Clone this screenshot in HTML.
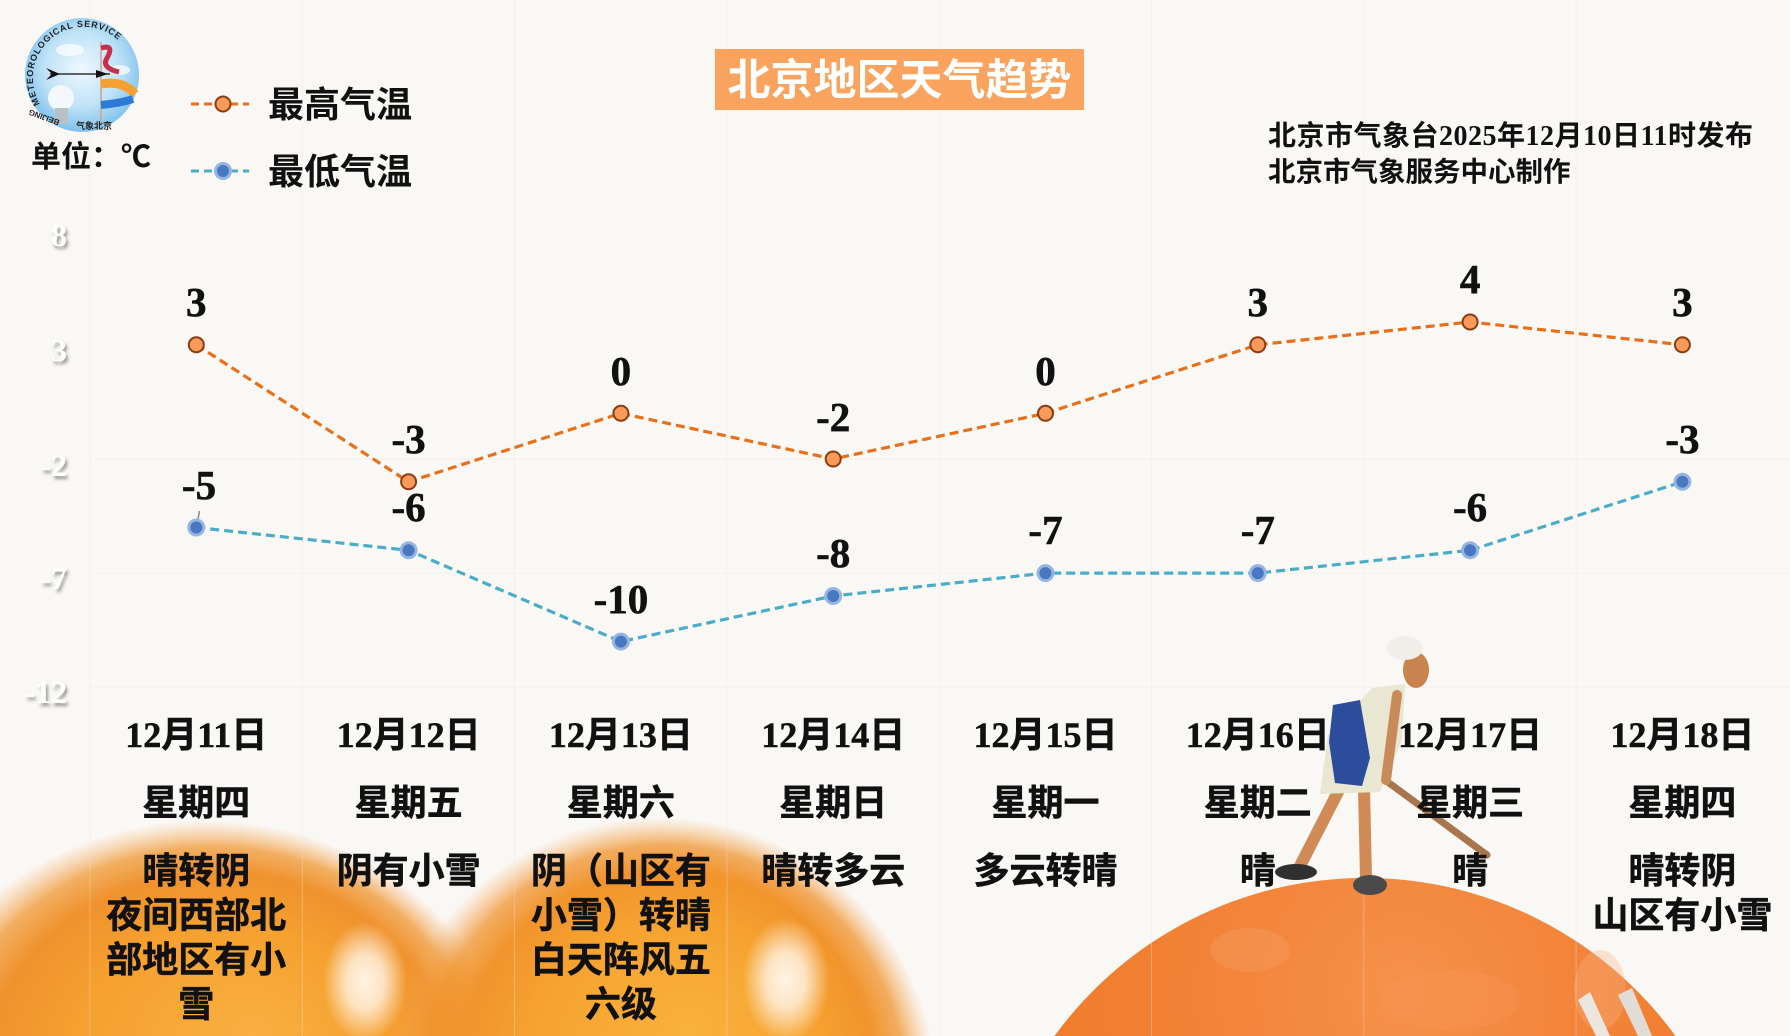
<!DOCTYPE html>
<html><head><meta charset="utf-8">
<style>
html,body{margin:0;padding:0;background:#faf8f5;width:1790px;height:1036px;overflow:hidden;}
svg{display:block;}
.cjk{font-family:"Liberation Sans","Noto Sans CJK SC",sans-serif;font-weight:700;}
.ser{font-family:"Liberation Serif","Noto Sans CJK SC",serif;font-weight:700;}
</style></head>
<body>
<svg width="1790" height="1036" viewBox="0 0 1790 1036" xmlns="http://www.w3.org/2000/svg" style="overflow:hidden">
<defs>
  <clipPath id="frame"><rect width="1790" height="1036"/></clipPath>
  <filter id="shadow" x="-30%" y="-30%" width="160%" height="160%"><feDropShadow dx="2" dy="3" stdDeviation="1.6" flood-color="#444" flood-opacity="0.55"/></filter>
  <radialGradient id="gA" gradientUnits="userSpaceOnUse" cx="205" cy="1100" r="280" fx="250" fy="1030" gradientTransform="translate(205 1100) scale(1.12 1) translate(-205 -1100)">
    <stop offset="0" stop-color="#f9b040"/><stop offset="0.5" stop-color="#f5a02f"/>
    <stop offset="0.75" stop-color="#f0922e"/><stop offset="0.87" stop-color="#f0962f" stop-opacity="0.75"/>
    <stop offset="1" stop-color="#f4aa60" stop-opacity="0"/>
  </radialGradient>
  <radialGradient id="gB" gradientUnits="userSpaceOnUse" cx="660" cy="1095" r="278" fx="690" fy="1030">
    <stop offset="0" stop-color="#f9b23c"/><stop offset="0.5" stop-color="#f6a330"/>
    <stop offset="0.75" stop-color="#f1942c"/><stop offset="0.87" stop-color="#f0942e" stop-opacity="0.75"/>
    <stop offset="1" stop-color="#f4aa60" stop-opacity="0"/>
  </radialGradient>
  <radialGradient id="hA" gradientUnits="userSpaceOnUse" cx="365" cy="982" r="60" gradientTransform="translate(365 982) scale(0.7 1) translate(-365 -982)">
    <stop offset="0" stop-color="#fff8ee" stop-opacity="0.95"/><stop offset="0.45" stop-color="#fff4e6" stop-opacity="0.8"/>
    <stop offset="1" stop-color="#fff4e6" stop-opacity="0"/>
  </radialGradient>
  <radialGradient id="hB" gradientUnits="userSpaceOnUse" cx="786" cy="980" r="62" gradientTransform="translate(786 980) scale(0.7 1) translate(-786 -980)">
    <stop offset="0" stop-color="#fff8ee" stop-opacity="0.95"/><stop offset="0.45" stop-color="#fff4e6" stop-opacity="0.8"/>
    <stop offset="1" stop-color="#fff4e6" stop-opacity="0"/>
  </radialGradient>
  <radialGradient id="gC" gradientUnits="userSpaceOnUse" cx="1403" cy="993" r="576">
    <stop offset="0" stop-color="#f6914a"/><stop offset="0.3" stop-color="#f3843a"/>
    <stop offset="0.7" stop-color="#f07a26"/><stop offset="1" stop-color="#e86e1e"/>
  </radialGradient>
  <radialGradient id="sky" cx="0.5" cy="0.45" r="0.55">
    <stop offset="0" stop-color="#eef8fe"/><stop offset="0.6" stop-color="#bfe2f7"/><stop offset="1" stop-color="#7fc2ec"/>
  </radialGradient>
  <path id="ringTop" d="M 40 104 A 50 50 0 1 1 128 52"/>
</defs>

<g clip-path="url(#frame)">
<rect width="1790" height="1036" fill="#faf8f5"/>

<rect x="0" y="780" width="560" height="256" fill="url(#gA)"/>
<rect x="370" y="780" width="580" height="256" fill="url(#gB)"/>
<rect x="300" y="910" width="130" height="126" fill="url(#hA)"/>
<rect x="720" y="910" width="132" height="126" fill="url(#hB)"/>

<path d="M 1054.5 1036 A 384 384 0 0 1 1675.5 1036 Z" fill="url(#gC)"/>
<ellipse cx="1600" cy="990" rx="26" ry="40" fill="#f8b48a" opacity="0.35"/>
<ellipse cx="1250" cy="950" rx="40" ry="22" fill="#f7a068" opacity="0.35"/>
<ellipse cx="1450" cy="1000" rx="70" ry="30" fill="#f79858" opacity="0.3"/>
<polygon points="1578,1000 1590,992 1610,1036 1596,1036" fill="#ece6e0"/>
<polygon points="1618,995 1632,988 1652,1036 1638,1036" fill="#e2dcd6"/>

<g stroke="#ebe5dd" stroke-width="1" opacity="0.35">
  <line x1="90" y1="0" x2="90" y2="1036"/><line x1="302.3" y1="0" x2="302.3" y2="1036"/>
  <line x1="514.6" y1="0" x2="514.6" y2="1036"/><line x1="726.9" y1="0" x2="726.9" y2="1036"/>
  <line x1="939.2" y1="0" x2="939.2" y2="1036"/><line x1="1151.5" y1="0" x2="1151.5" y2="1036"/>
  <line x1="1363.8" y1="0" x2="1363.8" y2="1036"/><line x1="1576.1" y1="0" x2="1576.1" y2="1036"/>
  <line x1="90" y1="459" x2="1790" y2="459"/><line x1="90" y1="573.1" x2="1790" y2="573.1"/>
  <line x1="90" y1="687.3" x2="1790" y2="687.3"/>
</g>

<g>
  <line x1="1385" y1="780" x2="1487" y2="855" stroke="#a8764e" stroke-width="7" stroke-linecap="round"/>
  <line x1="1340" y1="788" x2="1300" y2="866" stroke="#d08a56" stroke-width="12" stroke-linecap="round"/>
  <line x1="1364" y1="788" x2="1366" y2="878" stroke="#d08a56" stroke-width="12" stroke-linecap="round"/>
  <ellipse cx="1296" cy="872" rx="21" ry="8" fill="#303030"/>
  <ellipse cx="1370" cy="885" rx="17" ry="10" fill="#4a4a4a"/>
  <polygon points="1372,688 1405,684 1402,740 1380,792 1320,794 1328,735" fill="#e9e6d2"/>
  <polygon points="1333,705 1360,700 1370,758 1362,786 1335,783 1329,742" fill="#2c4c9c"/>
  <line x1="1397" y1="695" x2="1386" y2="780" stroke="#c98a5a" stroke-width="10" stroke-linecap="round"/>
  <ellipse cx="1416" cy="670" rx="13" ry="18" fill="#c9834e"/>
  <ellipse cx="1405" cy="648" rx="18" ry="12" fill="#f1ede8"/>
</g>

<g>
  <circle cx="82" cy="75" r="57" fill="url(#sky)"/>
  <ellipse cx="70" cy="50" rx="14" ry="6" fill="#fff" opacity="0.7"/>
  <ellipse cx="120" cy="70" rx="10" ry="5" fill="#fff" opacity="0.7"/>
  <line x1="101" y1="42" x2="101" y2="124" stroke="#d0a090" stroke-width="1.5"/>
  <circle cx="61" cy="98" r="13" fill="#f4f8fc"/>
  <rect x="55" y="108" width="13" height="16" fill="#b8c0c8"/>
  <path d="M101 48 q 14 -4 6 10 q -6 10 12 14" stroke="#c8304a" stroke-width="5" fill="none"/>
  <path d="M101 84 q 22 -4 34 10" stroke="#f5a030" stroke-width="9" fill="none"/>
  <path d="M101 105 q 20 -2 32 -6" stroke="#2a7ad6" stroke-width="8" fill="none"/>
  <line x1="50" y1="74" x2="110" y2="74" stroke="#333" stroke-width="1.5"/>
  <polygon points="46,68 60,74 46,80 52,74" fill="#111"/>
  <polygon points="96,70 108,74 96,78" fill="#111"/>
  <text font-family="Liberation Sans,sans-serif" font-weight="700" font-size="9" fill="#222" letter-spacing="0.8"><textPath href="#ringTop">METEOROLOGICAL SERVICE</textPath></text>
  <text x="76" y="129" font-family="Liberation Sans,'Noto Sans CJK SC',sans-serif" font-weight="700" font-size="9" fill="#222">气象北京</text>
  <text x="36" y="120" font-family="Liberation Sans,sans-serif" font-weight="700" font-size="8" fill="#222" transform="rotate(200 48 118)">BEIJING</text>
</g>

<text x="31" y="167" class="cjk" font-size="30" fill="#111">单位：<tspan class="ser">℃</tspan></text>

<line x1="191" y1="104" x2="249" y2="104" stroke="#e8701a" stroke-width="3" stroke-dasharray="8 5"/>
<circle cx="223" cy="104" r="7.5" fill="#f79a5a" stroke="#8a3d10" stroke-width="2"/>
<text x="268" y="117" class="cjk" font-size="36" fill="#111">最高气温</text>
<line x1="191" y1="171" x2="249" y2="171" stroke="#4aacc6" stroke-width="3" stroke-dasharray="8 5"/>
<circle cx="223" cy="171" r="9" fill="#95b5e2"/><circle cx="223" cy="171" r="6" fill="#4a78c0"/>
<text x="268" y="184" class="cjk" font-size="36" fill="#111">最低气温</text>

<rect x="715" y="49" width="369" height="61" fill="#f9a35e"/>
<text x="899.5" y="95" text-anchor="middle" class="cjk" font-size="43" fill="#fff">北京地区天气趋势</text>

<text x="1268" y="145" class="ser" font-size="28" fill="#111" letter-spacing="0.5">北京市气象台2025年12月10日11时发布</text>
<text x="1268" y="181" class="ser" font-size="27.5" fill="#111">北京市气象服务中心制作</text>

<g class="ser" font-size="32" fill="#ffffff" text-anchor="end" filter="url(#shadow)">
  <text x="67" y="246">8</text>
  <text x="67" y="361">3</text>
  <text x="67" y="476">-2</text>
  <text x="67" y="589">-7</text>
  <text x="67" y="703">-12</text>
</g>

<polyline points="196.3,344.8 408.6,481.8 620.9,413.3 833.2,459 1045.5,413.3 1257.8,344.8 1470.1,322 1682.4,344.8" fill="none" stroke="#e8701a" stroke-width="3.2" stroke-dasharray="9 5"/>
<polyline points="196.3,527.5 408.6,550.3 620.9,641.6 833.2,596 1045.5,573.1 1257.8,573.1 1470.1,550.3 1682.4,481.8" fill="none" stroke="#4aacc6" stroke-width="3.2" stroke-dasharray="9 5"/>
<line x1="199.5" y1="511" x2="196.5" y2="527" stroke="#888" stroke-width="1.5"/>

<g fill="#f79a5a" stroke="#8a3d10" stroke-width="2">
  <circle cx="196.3" cy="344.8" r="7.5"/><circle cx="408.6" cy="481.8" r="7.5"/>
  <circle cx="620.9" cy="413.3" r="7.5"/><circle cx="833.2" cy="459" r="7.5"/>
  <circle cx="1045.5" cy="413.3" r="7.5"/><circle cx="1257.8" cy="344.8" r="7.5"/>
  <circle cx="1470.1" cy="322" r="7.5"/><circle cx="1682.4" cy="344.8" r="7.5"/>
</g>
<g fill="#95b5e2">
  <circle cx="196.3" cy="527.5" r="9"/><circle cx="408.6" cy="550.3" r="9"/>
  <circle cx="620.9" cy="641.6" r="9"/><circle cx="833.2" cy="596" r="9"/>
  <circle cx="1045.5" cy="573.1" r="9"/><circle cx="1257.8" cy="573.1" r="9"/>
  <circle cx="1470.1" cy="550.3" r="9"/><circle cx="1682.4" cy="481.8" r="9"/>
</g>
<g fill="#4a78c0">
  <circle cx="196.3" cy="527.5" r="6"/><circle cx="408.6" cy="550.3" r="6"/>
  <circle cx="620.9" cy="641.6" r="6"/><circle cx="833.2" cy="596" r="6"/>
  <circle cx="1045.5" cy="573.1" r="6"/><circle cx="1257.8" cy="573.1" r="6"/>
  <circle cx="1470.1" cy="550.3" r="6"/><circle cx="1682.4" cy="481.8" r="6"/>
</g>

<g class="ser" font-size="41" fill="#111" text-anchor="middle" stroke="#111" stroke-width="0.6">
  <text x="196.3" y="316">3</text><text x="408.6" y="453">-3</text>
  <text x="620.9" y="385">0</text><text x="833.2" y="431">-2</text>
  <text x="1045.5" y="385">0</text><text x="1257.8" y="316">3</text>
  <text x="1470.1" y="293">4</text><text x="1682.4" y="316">3</text>
  <text x="199" y="499">-5</text><text x="408.6" y="521">-6</text>
  <text x="620.9" y="613">-10</text><text x="833.2" y="567">-8</text>
  <text x="1045.5" y="544">-7</text><text x="1257.8" y="544">-7</text>
  <text x="1470.1" y="521">-6</text><text x="1682.4" y="453">-3</text>
</g>

<g class="ser" font-size="36" fill="#111" text-anchor="middle" stroke="#111" stroke-width="0.5">
  <text x="196.3" y="747">12月11日</text><text x="408.6" y="747">12月12日</text>
  <text x="620.9" y="747">12月13日</text><text x="833.2" y="747">12月14日</text>
  <text x="1045.5" y="747">12月15日</text><text x="1257.8" y="747">12月16日</text>
  <text x="1470.1" y="747">12月17日</text><text x="1682.4" y="747">12月18日</text>
</g>
<g class="cjk" font-size="36" fill="#111" text-anchor="middle" stroke="#111" stroke-width="0.5">
  <text x="196.3" y="815">星期四</text><text x="408.6" y="815">星期五</text>
  <text x="620.9" y="815">星期六</text><text x="833.2" y="815">星期日</text>
  <text x="1045.5" y="815">星期一</text><text x="1257.8" y="815">星期二</text>
  <text x="1470.1" y="815">星期三</text><text x="1682.4" y="815">星期四</text>

  <text x="196.3" y="883">晴转阴</text>
  <text x="196.3" y="927.5">夜间西部北</text>
  <text x="196.3" y="972">部地区有小</text>
  <text x="196.3" y="1016.5">雪</text>

  <text x="408.6" y="883">阴有小雪</text>

  <text x="620.9" y="883">阴（山区有</text>
  <text x="620.9" y="927.5">小雪）转晴</text>
  <text x="620.9" y="972">白天阵风五</text>
  <text x="620.9" y="1016.5">六级</text>

  <text x="833.2" y="883">晴转多云</text>
  <text x="1045.5" y="883">多云转晴</text>
  <text x="1257.8" y="883">晴</text>
  <text x="1470.1" y="883">晴</text>
  <text x="1682.4" y="883">晴转阴</text>
  <text x="1682.4" y="927.5">山区有小雪</text>
</g>
</g>
</svg>
</body></html>
